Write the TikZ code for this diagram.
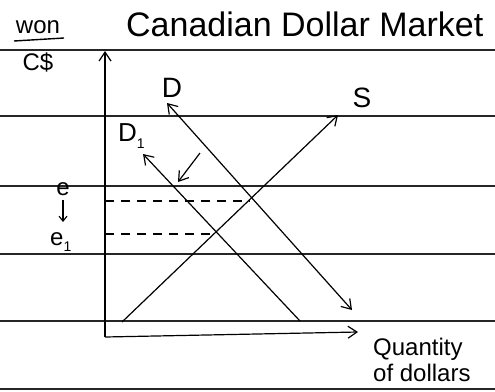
\documentclass[tikz,border=0pt]{standalone}
\usepackage{fontspec}
\setmainfont{Liberation Sans}
\usetikzlibrary{arrows.meta}
\newcommand{\lowsub}[1]{\raisebox{-0.25em}{\fontsize{14}{14}\selectfont #1}}
\begin{document}
\begin{tikzpicture}[x=1pt,y=-1pt,
  rule/.style={line width=2pt,black!85},
  curve/.style={line width=1.2pt},
  tip/.style={-{Straight Barb[length=9pt,width=12pt,line width=1.2pt]}},
  guide/.style={line width=1.1pt,dash pattern=on 9pt off 7pt},
  hand/.style={font=\fontsize{24}{26}\selectfont,inner sep=0pt}]
\useasboundingbox (0,0) rectangle (495,391);
\fill[white] (0,0) rectangle (495,391);
% ruled paper lines
\foreach \yy in {50,116,186,254,321,389}
  \draw[rule] (0,\yy) -- (495,\yy);
% axes
\coordinate (O) at (105,337);
\coordinate (ytop) at (105,51);
\coordinate (xend) at (358,332);
\draw[curve,tip] (O) -- (ytop);
\draw[curve,tip] (O) -- (xend);
% curves
\coordinate (Dtop) at (167,103);
\coordinate (Dbot) at (352,310);
\coordinate (D1top) at (143,154);
\coordinate (D1bot) at (300,321);
\coordinate (Sbot) at (122,322);
\coordinate (Stop) at (338,115);
\draw[curve,tip] (D1bot) -- (D1top);
\draw[curve,{Straight Barb[length=9pt,width=12pt,line width=1.2pt]}-{Straight Barb[length=9pt,width=12pt,line width=1.2pt]}] (Dtop) -- (Dbot);
\draw[curve,tip] (Sbot) -- (Stop);
% shift arrow
\coordinate (shA) at (200,153);
\coordinate (shB) at (178,182);
\draw[curve,tip] (shA) -- (shB);
% dashed guides
\coordinate (eL) at (105,201);
\coordinate (eR) at (250,201);
\coordinate (e1L) at (105,234);
\coordinate (e1R) at (216,234);
\draw[guide] (eL) -- (eR);
\draw[guide] (e1L) -- (e1R);
% labels
\node[hand,font=\fontsize{34}{36}\selectfont,anchor=base west] (title) at (126,36) {Canadian Dollar Market};
\node[hand,anchor=base] (won) at (38,33) {won};
\draw[line width=1.4pt] (14,41) -- (64,38);
\node[hand,anchor=base] (cd) at (38,70) {C\$};
\node[hand,font=\fontsize{28}{30}\selectfont] (Dl) at (172,88) {D};
\node[hand,font=\fontsize{26}{28}\selectfont,anchor=west] (D1l) at (118,136) {D\lowsub{1}};
\node[hand,font=\fontsize{28}{30}\selectfont] (Sl) at (362,98) {S};
\node[hand,anchor=base] (el) at (63,195) {e};
\node[hand,anchor=base west] (e1l) at (50,245) {e\lowsub{1}};
\coordinate (arA) at (63,200);
\coordinate (arB) at (63,222);
\draw[line width=1.1pt,-{Straight Barb[length=5pt,width=8pt,line width=1.1pt]}] (arA) -- (arB);
\node[hand,align=left,anchor=north west] (ql) at (373,338) {Quantity\\of dollars};
\end{tikzpicture}
\end{document}
